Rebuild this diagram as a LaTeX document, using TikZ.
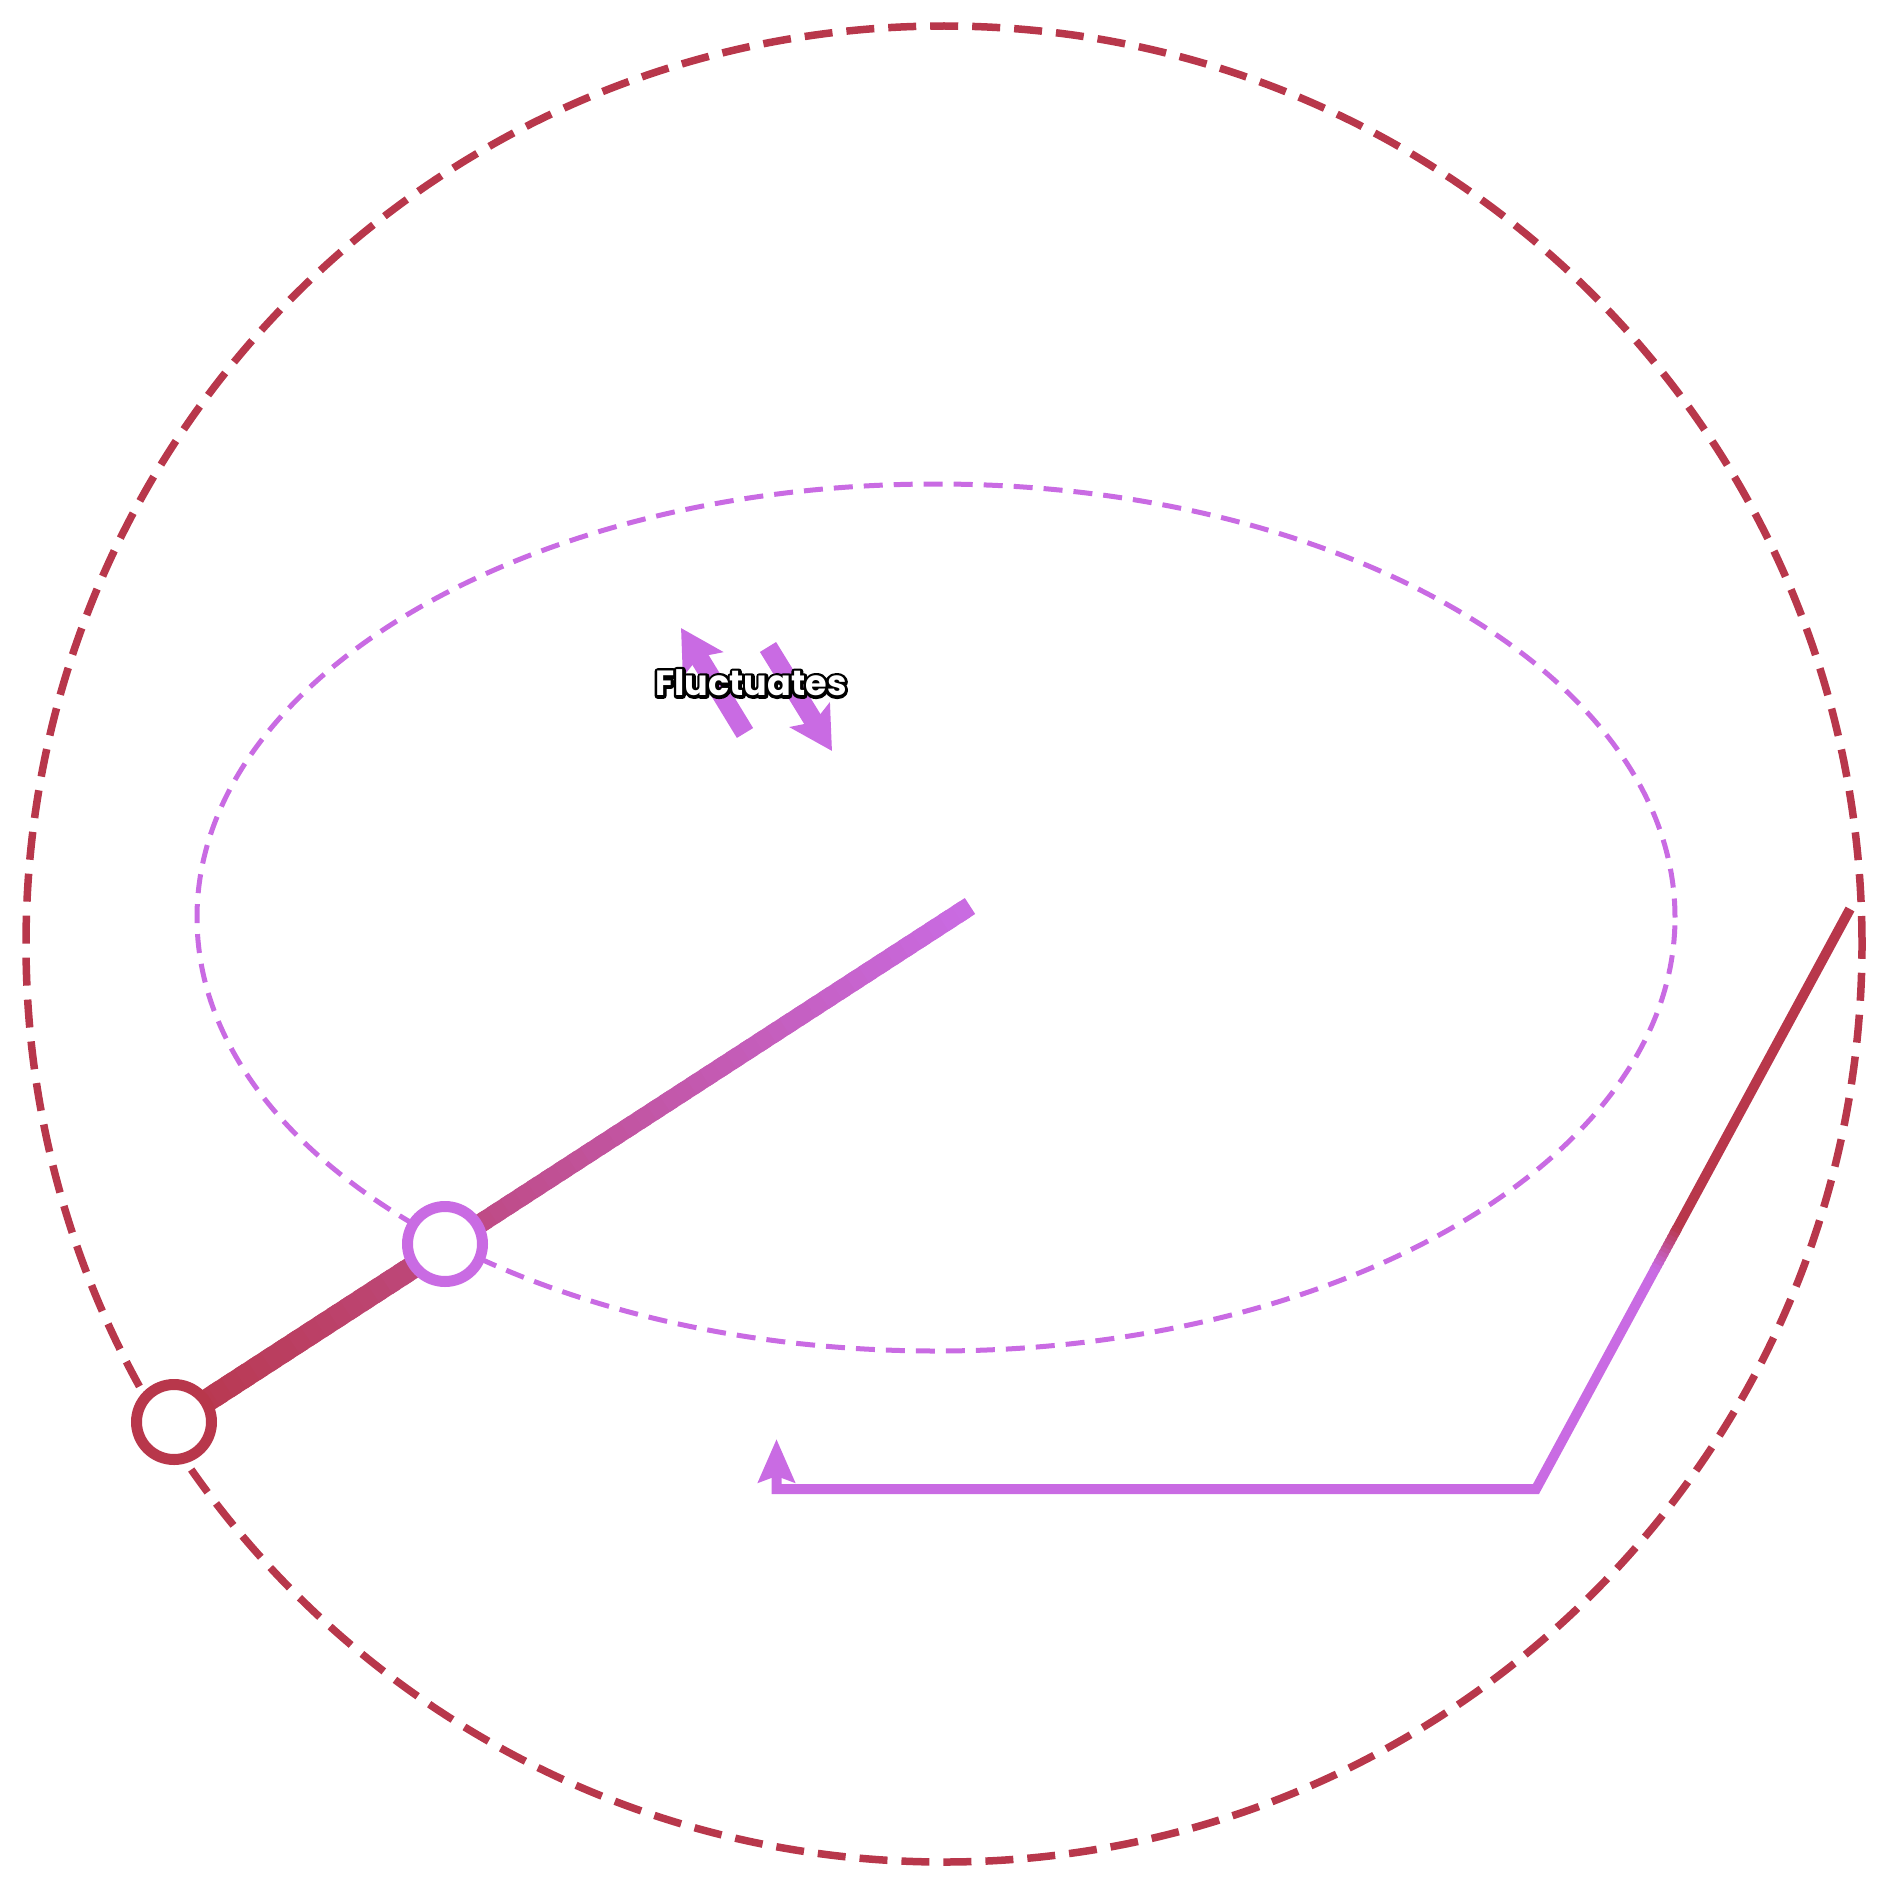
\documentclass[tikz,border=0pt]{standalone}
\usepackage{fontspec}
\usetikzlibrary{arrows.meta,calc,backgrounds}
\newfontfamily\tagfont{Poppins}
\definecolor{rimred}{HTML}{B8374B}
\definecolor{orchid}{HTML}{C96BE3}
% black rim round the white label letters
\newcommand\rimtext[1]{\rlap{\special{pdf:literal direct 0 0 0 RG 6 w 1 j 1 Tr}#1\special{pdf:literal direct 0 Tr}}#1}
\tikzset{
  outerorbit/.style={draw=rimred,line width=7.5pt,dash pattern=on 28pt off 14pt},
  innerorbit/.style={draw=orchid,line width=5pt,dash pattern=on 19pt off 11pt},
  ring/.style={circle,fill=white,line width=11pt,minimum size=75pt,inner sep=0pt},
  swing/.style={draw=orchid,line width=19pt,-{Stealth[length=42pt,width=46pt,inset=8pt]}},
  feed/.style={line width=10pt},
  tag/.style={font=\tagfont\bfseries\fontsize{35}{40}\selectfont,text=white,inner sep=0pt}}

\begin{document}
\begin{tikzpicture}[x=1pt,y=-1pt]
  \path[use as bounding box] (0,0) rectangle (1890,1900);
  % orbits
  \draw[outerorbit] (944,944) circle[radius=918pt];
  \draw[innerorbit] (936,917.5) ellipse[x radius=739pt,y radius=433.5pt];
  % arm with its two joints
  \coordinate (hub) at (970,906);
  \node[ring,draw=rimred] (outer) at (174,1422) {};
  \node[ring,draw=orchid] (inner) at (445,1244) {};
  \begin{pgfonlayer}{background}
    \foreach \i in {0,...,59}{
      \pgfmathsetmacro\ta{\i/60}
      \pgfmathsetmacro\tb{min((\i+1.6)/60,1)}
      \pgfmathtruncatemacro\mix{round(100*(\i+0.5)/60)}
      \pgfmathsetmacro\wd{\i<21 ? 23 : 19}
      \draw[line width=\wd pt,orchid!\mix!rimred]
        ($(outer.center)!\ta!(hub)$) -- ($(outer.center)!\tb!(hub)$);
    }
  \end{pgfonlayer}
  % feedback path
  \coordinate (rim) at (1850,909);
  \coordinate (bend) at (1536,1489);
  \coordinate (drop) at (776.5,1439);
  \draw[feed,rimred] (rim) -- ($(rim)!0.56!(bend)$);
  \foreach \i in {0,...,9}{
    \pgfmathsetmacro\ta{0.55+\i*0.007}
    \pgfmathsetmacro\tb{0.55+(\i+1.5)*0.007}
    \pgfmathtruncatemacro\mix{round(10*\i+5)}
    \draw[feed,orchid!\mix!rimred] ($(rim)!\ta!(bend)$) -- ($(rim)!\tb!(bend)$);
  }
  \draw[feed,orchid,-{Stealth[length=43pt,width=36pt,inset=6pt]}]
    ($(rim)!0.62!(bend)$) -- (bend) -| (drop);
  % fluctuation label
  \coordinate (upfrom) at (745,733);
  \coordinate (upto) at (681,628);
  \coordinate (downfrom) at (768,647);
  \coordinate (downto) at (832,751);
  \draw[swing] (upfrom) -- (upto);
  \draw[swing] (downfrom) -- (downto);
  \node[tag] (fluct) at (751,683) {\rimtext{Fluctuates}};
\end{tikzpicture}
\end{document}
